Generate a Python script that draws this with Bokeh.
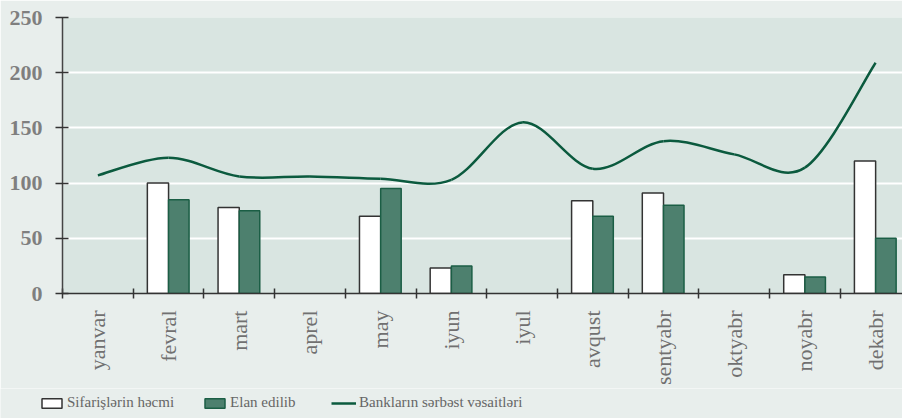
import numpy as np
from bokeh.plotting import figure
from bokeh.layouts import column
from bokeh.models import Range1d, FixedTicker, Legend, LegendItem
from bokeh.embed import file_html
from bokeh.resources import INLINE

months = ["yanvar", "fevral", "mart", "aprel", "may", "iyun", "iyul",
          "avqust", "sentyabr", "oktyabr", "noyabr", "dekabr"]
orders = [None, 100, 78, None, 70, 23, None, 84, 91, None, 17, 120]      # Sifarişlərin həcmi
placed = [None, 85, 75, None, 95, 25, None, 70, 80, None, 15, 50]        # Elan edilib
funds = [107, 123, 106, 106, 104, 103, 155, 113, 138, 126, 114, 209]     # Bankların sərbəst vəsaitləri
y_ticks = [0, 50, 100, 150, 200, 250]
series_names = ["Sifarişlərin həcmi", "Elan edilib", "Bankların sərbəst vəsaitləri"]

serif = "Liberation Serif"
OUTER = "#e8eeec"
WHITE_BAR = dict(fill_color="white", line_color="#333333", line_width=1.5)
GREEN_BAR = dict(fill_color="#4d806e", line_color="#1b5e45", line_width=1.5)
LINE = dict(line_color="#0b5a3e", line_width=2.5)

centers = np.arange(len(months)) + 0.5
bounds = list(np.arange(len(months) + 1).astype(float))
o = np.array([np.nan if v is None else v for v in orders], dtype=float)
pl = np.array([np.nan if v is None else v for v in placed], dtype=float)
f = np.array(funds, dtype=float)

p = figure(width=902, height=388, x_range=Range1d(0, 11.88), y_range=Range1d(0, 250),
           output_backend="svg", toolbar_location=None,
           min_border_left=62, min_border_top=17, min_border_right=0, min_border_bottom=95)
p.background_fill_color = "#d9e5e1"
p.border_fill_color = OUTER
p.outline_line_color = None

p.xgrid.visible = False
p.ygrid.grid_line_color = "white"
p.ygrid.grid_line_width = 2

# bars
p.vbar(x=centers - 0.15, width=0.3, top=o, bottom=0, **WHITE_BAR)
p.vbar(x=centers + 0.145, width=0.29, top=pl, bottom=0, **GREEN_BAR)

# smoothed line (Catmull-Rom as Bezier segments through the monthly values)
xp = np.concatenate([[centers[0]], centers, [centers[-1]]])
yp = np.concatenate([[f[0]], f, [f[-1]]])
x0 = xp[1:-2]; y0 = yp[1:-2]
x1 = xp[2:-1]; y1 = yp[2:-1]
cx0 = x0 + (xp[2:-1] - xp[0:-3]) / 6.0
cy0 = y0 + (yp[2:-1] - yp[0:-3]) / 6.0
cx1 = x1 - (xp[3:] - xp[1:-2]) / 6.0
cy1 = y1 - (yp[3:] - yp[1:-2]) / 6.0
p.bezier(x0=x0, y0=y0, x1=x1, y1=y1, cx0=cx0, cy0=cy0, cx1=cx1, cy1=cy1, **LINE)

# axes
xa = p.xaxis[0]
xa.ticker = FixedTicker(ticks=list(centers), minor_ticks=bounds)
xa.major_label_overrides = {float(c): m for c, m in zip(centers, months)}
xa.major_label_orientation = np.pi / 2
xa.major_tick_in = 0
xa.major_tick_out = 0
xa.minor_tick_in = 5
xa.minor_tick_out = 5
xa.minor_tick_line_color = "#333333"
xa.minor_tick_line_width = 1.5
xa.axis_line_color = "#333333"
xa.axis_line_width = 1.5
xa.major_label_standoff = 12
xa.major_label_text_font = serif
xa.major_label_text_font_size = "22px"
xa.major_label_text_color = "#707070"

ya = p.yaxis[0]
ya.ticker = FixedTicker(ticks=y_ticks)
ya.major_tick_in = 6
ya.major_tick_out = 7
ya.minor_tick_in = 0
ya.minor_tick_out = 0
ya.major_tick_line_color = "#333333"
ya.major_tick_line_width = 1.5
ya.axis_line_color = "#444444"
ya.axis_line_width = 1.5
ya.major_label_standoff = 13
ya.major_label_text_font = serif
ya.major_label_text_font_size = "22px"
ya.major_label_text_font_style = "bold"
ya.major_label_text_color = "#7f7f7f"

# legend strip below the chart
lf = figure(width=902, height=30, x_range=Range1d(0, 1), y_range=Range1d(0, 1),
            output_backend="svg", toolbar_location=None,
            min_border_left=0, min_border_right=0, min_border_top=0, min_border_bottom=0)
lf.frame_align = False
lf.axis.visible = False
lf.grid.visible = False
lf.background_fill_color = OUTER
lf.border_fill_color = OUTER
lf.outline_line_color = None
g1 = lf.vbar(x=[np.nan], width=0.1, top=[np.nan], bottom=0, **WHITE_BAR)
g2 = lf.vbar(x=[np.nan], width=0.1, top=[np.nan], bottom=0, **GREEN_BAR)
g3 = lf.line(x=[np.nan], y=[np.nan], **LINE)

legend = Legend(items=[LegendItem(label=series_names[0], renderers=[g1]),
                       LegendItem(label=series_names[1], renderers=[g2]),
                       LegendItem(label=series_names[2], renderers=[g3])],
                location=(39, 7), orientation="horizontal", padding=0, margin=0,
                spacing=28, glyph_width=25, glyph_height=12, label_height=14,
                label_width=73, label_standoff=3,
                label_text_font=serif, label_text_font_size="15px",
                label_text_color="#666666", border_line_color=None,
                background_fill_alpha=0)
lf.add_layout(legend, "center")

layout = column(p, lf, spacing=0)
open("out.html", "w").write(file_html(layout, INLINE))
